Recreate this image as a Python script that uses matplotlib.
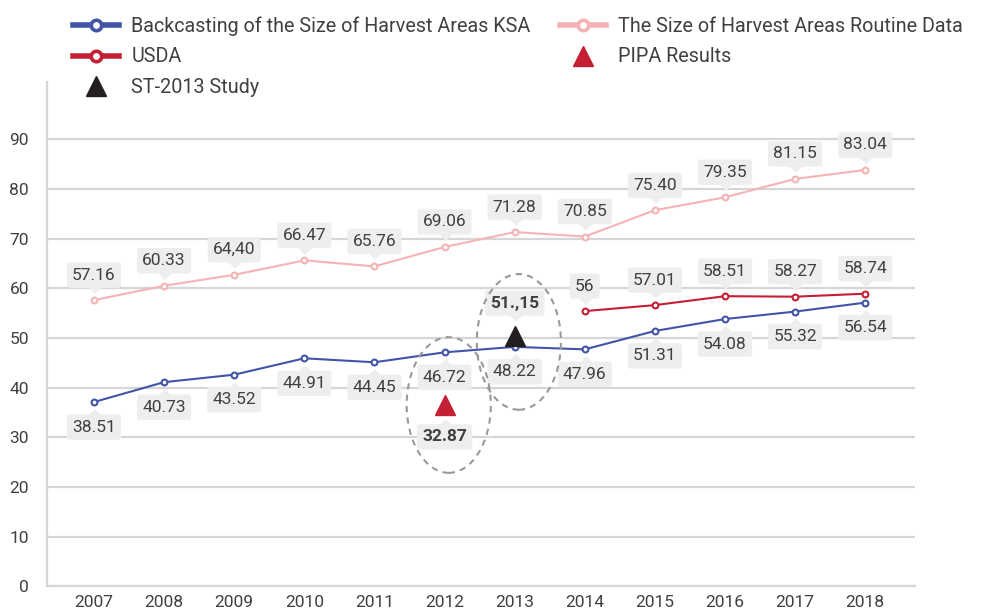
import matplotlib
matplotlib.use("Agg")
import matplotlib.pyplot as plt
from matplotlib.patches import Ellipse
from matplotlib.lines import Line2D
from matplotlib.transforms import offset_copy

plt.rcParams['font.family'] = ['Roboto', 'DejaVu Sans']

# ---------------- data ----------------
years = [2007, 2008, 2009, 2010, 2011, 2012, 2013, 2014, 2015, 2016, 2017, 2018]
backcast_values = [37.1, 41.1, 42.6, 45.9, 45.1, 47.1, 48.2, 47.7, 51.4, 53.8, 55.3, 57.1]
backcast_labels = ["38.51", "40.73", "43.52", "44.91", "44.45", "46.72",
                   "48.22", "47.96", "51.31", "54.08", "55.32", "56.54"]
routine_values = [57.6, 60.5, 62.7, 65.6, 64.4, 68.3, 71.3, 70.4, 75.7, 78.3, 82.0, 83.8]
routine_labels = ["57.16", "60.33", "64,40", "66.47", "65.76", "69.06",
                  "71.28", "70.85", "75.40", "79.35", "81.15", "83.04"]
usda_years = [2014, 2015, 2016, 2017, 2018]
usda_values = [55.4, 56.6, 58.4, 58.3, 58.9]
usda_labels = ["56", "57.01", "58.51", "58.27", "58.74"]
st_years = [2013]
st_values = [50.3]
st_labels = ["51.,15"]
pipa_years = [2012]
pipa_values = [36.5]
pipa_labels = ["32.87"]
yticks = [0, 10, 20, 30, 40, 50, 60, 70, 80, 90]

names = ["Backcasting of the Size of Harvest Areas KSA", "USDA", "ST-2013 Study",
         "The Size of Harvest Areas Routine Data", "PIPA Results"]

# ---------------- style ----------------
BLUE = "#4254A8"
RED = "#C41F35"
PINK = "#F6B3B3"
BLACK = "#231F20"
TXT = "#404040"
BOX = "#EEEEEE"
GRID = "#D6D6D6"

fig = plt.figure(figsize=(9.81, 6.09), dpi=100)
ax = fig.add_axes([47/981, 1-586.4/609, (915-47)/981, (586.4-82)/609])
ax.set_xlim(2007-0.67, 2018+0.71)
ax.set_ylim(0, 101.5)

ax.set_yticks(yticks)
ax.set_xticks(years)
ax.set_xticklabels([str(y) for y in years])
ax.yaxis.grid(True, color=GRID, lw=1.6)
ax.set_axisbelow(True)
for s in ["top", "right"]:
    ax.spines[s].set_visible(False)
ax.spines["left"].set_color(GRID)
ax.spines["left"].set_linewidth(1.6)
ax.spines["bottom"].set_color(GRID)
ax.spines["bottom"].set_linewidth(1.6)
ax.tick_params(axis="both", length=0, labelsize=12.5, labelcolor=TXT)
ax.tick_params(axis="y", pad=13)
ax.tick_params(axis="x", pad=6)

line_kw = dict(lw=1.5, marker="o", ms=4.2, mfc="white", mew=1.5, zorder=5)
ax.plot(years, routine_values, color=PINK, mec=PINK, **line_kw)
ax.plot(years, backcast_values, color=BLUE, mec=BLUE, **line_kw)
ax.plot(usda_years, usda_values, color=RED, mec=RED, **line_kw)
ax.plot(st_years, st_values, ls="none", marker="^", ms=14, color=BLACK, zorder=6)
ax.plot(pipa_years, pipa_values, ls="none", marker="^", ms=14, color=RED, zorder=6)

down_ptr = [(-1, 0), (1, 0), (0, -1)]
up_ptr = [(-1, 0), (1, 0), (0, 1)]


def label(x, y, txt, above, off=18, bold=False):
    dy = off if above else -off
    ax.annotate(txt, (x, y), xytext=(0, dy), textcoords="offset points",
                ha="center", va="center", fontsize=12.5, color=TXT,
                fontweight="bold" if bold else "normal",
                bbox=dict(boxstyle="round,pad=0.3,rounding_size=0.15", fc=BOX, ec="none"),
                zorder=3)
    pdy = (off - 8) if above else -(off - 8)
    tr = offset_copy(ax.transData, fig=fig, x=0, y=pdy, units="points")
    ax.plot([x], [y], ls="none", marker=down_ptr if above else up_ptr, ms=10,
            color=BOX, transform=tr, zorder=3)


for x, y, t in zip(years, routine_values, routine_labels):
    label(x, y, t, True)
for x, y, t in zip(years, backcast_values, backcast_labels):
    label(x, y, t, False)
for x, y, t in zip(usda_years, usda_values, usda_labels):
    label(x, y, t, True)
for x, y, t in zip(st_years, st_values, st_labels):
    label(x, y, t, True, off=24, bold=True)
for x, y, t in zip(pipa_years, pipa_values, pipa_labels):
    label(x, y, t, False, off=23, bold=True)

# dashed ellipses highlighting the study points
for cx, cy in [(pipa_years[0] + 0.06, 36.5), (st_years[0] + 0.06, 49.2)]:
    ax.add_patch(Ellipse((cx, cy), 1.2, 27.3, fill=False, ec="#999999",
                         lw=1.5, ls=(0, (3, 2.5)), zorder=7))

# legend
handles = [
    Line2D([], [], color=BLUE, lw=4, marker="o", ms=7.5, mfc="white", mec=BLUE, mew=2.6),
    Line2D([], [], color=RED, lw=4, marker="o", ms=7.5, mfc="white", mec=RED, mew=2.6),
    Line2D([], [], ls="none", marker="^", ms=14.5, color=BLACK),
    Line2D([], [], color=PINK, lw=4, marker="o", ms=7.5, mfc="white", mec=PINK, mew=2.6),
    Line2D([], [], ls="none", marker="^", ms=14.5, color=RED),
]
leg = fig.legend(handles, names, ncol=2, loc="upper left",
                 bbox_to_anchor=(73/981, 1-16.5/609), frameon=False, fontsize=14.2,
                 handlelength=2.35, handletextpad=0.6, columnspacing=1.5,
                 labelspacing=0.58, borderpad=0, borderaxespad=0)
for t in leg.get_texts():
    t.set_color(TXT)

fig.savefig("out.png", dpi=100)
